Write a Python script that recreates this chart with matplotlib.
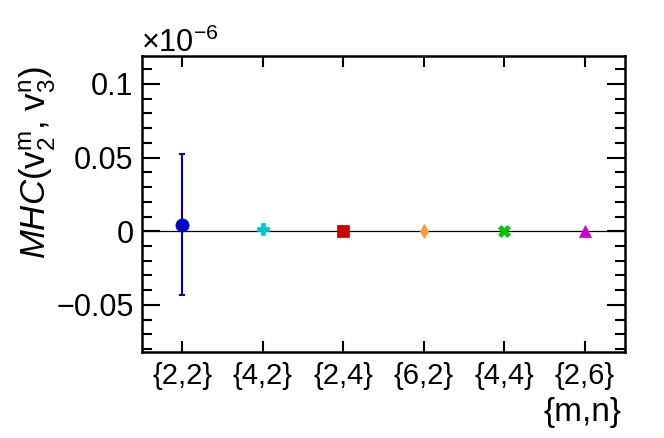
import matplotlib
matplotlib.use("Agg")
import matplotlib.pyplot as plt
from matplotlib.ticker import MultipleLocator, FixedLocator

plt.rcParams['font.family'] = ['Liberation Sans', 'DejaVu Sans']
plt.rcParams['mathtext.fontset'] = 'custom'
plt.rcParams['mathtext.rm'] = 'Liberation Sans'
plt.rcParams['mathtext.it'] = 'Liberation Sans:italic'

categories = ["{2,2}", "{4,2}", "{2,4}", "{6,2}", "{4,4}", "{2,6}"]
values = [0.0045, 0.0018, 0.0003, 0.0, 0.0, 0.0]          # in units of 1e-6
errors = [0.048, 0.0, 0.0, 0.0, 0.0, 0.0]
colors = ["#0000cc", "#00c8c8", "#cc0000", "#ff9933", "#00c800", "#cc00cc"]
markers = ["o", "P", "s", "d", "X", "^"]
msizes = [9.5, 9, 9, 7, 8.5, 9]

fig = plt.figure(figsize=(6.64, 4.38), dpi=100)
ax = fig.add_axes([142/664, 1-352/438, (625-142)/664, (352-56)/438])

ax.axhline(0, color="black", lw=0.9, zorder=1)

for i, (v, e, c, m, s) in enumerate(zip(values, errors, colors, markers, msizes)):
    if e > 0:
        ax.errorbar(i, v, yerr=e, fmt="none", ecolor=c, elinewidth=1.5,
                    capsize=2, capthick=1.5, zorder=2)
    ax.plot(i, v, marker=m, color=c, markersize=s, markeredgewidth=0.5,
            linestyle="none", zorder=3)

ax.set_xlim(-0.5, 5.5)
ax.set_ylim(-0.082, 0.119)

ax.xaxis.set_major_locator(FixedLocator(range(len(categories))))
ax.set_xticklabels(categories, fontsize=21)
ax.yaxis.set_minor_locator(MultipleLocator(0.01))
ax.set_yticks([-0.05, 0, 0.05, 0.1])
ax.set_yticklabels(["\u22120.05", "0", "0.05", "0.1"], fontsize=22)

ax.tick_params(axis="both", which="both", direction="in", top=True, right=True,
               width=1.5, color="black")
ax.tick_params(axis="y", which="major", length=13, pad=6)
ax.tick_params(axis="y", which="minor", length=7)
ax.tick_params(axis="x", which="major", length=8, pad=7)
ax.tick_params(axis="x", which="minor", bottom=False, top=False)

for sp in ax.spines.values():
    sp.set_linewidth(1.8)

fig.text(141/664, 1-52/438, r"$\times$10$^{\mathrm{-6}}$", fontsize=22,
         ha="left", va="baseline")

fig.text(38/664, 1-66/438,
         r"$MHC$(v$_{\mathrm{2}}^{\mathrm{m}}$, v$_{\mathrm{3}}^{\mathrm{n}}$)",
         fontsize=25, rotation=90, ha="center", va="top")

fig.text(622/664, 1-421/438, "{m,n}", fontsize=24, ha="right", va="baseline")

fig.savefig("out.png", dpi=100)
